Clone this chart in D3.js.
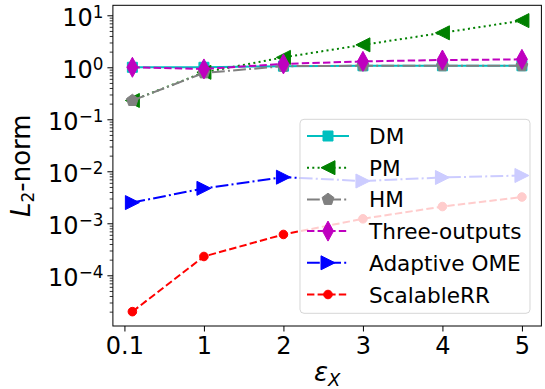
<!DOCTYPE html>
<html>
<head>
<meta charset="utf-8">
<script src="https://cdn.jsdelivr.net/npm/d3@7"></script>
<style>
body { margin: 0; background: #fff; }
text { font-family: "DejaVu Sans", sans-serif; fill: #000; }
</style>
</head>
<body>
<div id="chart"></div>
<script>
// data
const xValues = [0.1, 1, 2, 3, 4, 5];
const xTickPos = [0, 1, 2, 3, 4, 5];
const xTickLabels = ["0.1", "1", "2", "3", "4", "5"];
const yTickExps = [-4, -3, -2, -1, 0, 1];

const seriesNames = ["DM", "PM", "HM", "Three-outputs", "Adaptive OME", "ScalableRR"];
const dmValues = [1.0, 1.0, 1.05, 1.07, 1.07, 1.07];
const pmValues = [0.23, 0.8, 1.55, 2.7, 4.6, 7.9];
const hmValues = [0.23, 0.78, 1.05, 1.07, 1.07, 1.07];
const threeValues = [1.0, 0.93, 1.16, 1.3, 1.38, 1.42];
const omeValues = [0.0025, 0.0047, 0.0077, 0.0065, 0.0076, 0.0083];
const rrValues = [0.00002, 0.00023, 0.00061, 0.00122, 0.0021, 0.0032];

const width = 545;
const height = 389;
const plot = {left: 112.9, right: 541.4, top: 5.3, bottom: 326};

const styles = {
    "DM": {color: "#00bfbf", dash: null, marker: "square"},
    "PM": {color: "#008000", dash: "2,3.3", marker: "triLeft"},
    "HM": {color: "#808080", dash: "12.8,3.2,2,3.2", marker: "pentagon"},
    "Three-outputs": {color: "#bf00bf", dash: "7.4,3.2", marker: "thinDiamond"},
    "Adaptive OME": {color: "#0000ff", dash: "12.8,3.2,2,3.2", marker: "triRight"},
    "ScalableRR": {color: "#ff0000", dash: "7.4,3.2", marker: "circle"}
};

function markerPath(kind){
    if (kind === "square") return "M-5,-5H5V5H-5Z";
    if (kind === "triLeft") return "M-7,0L7,-7L7,7Z";
    if (kind === "triRight") return "M7,0L-7,-7L-7,7Z";
    if (kind === "thinDiamond") return "M0,-10L5.5,0L0,10L-5.5,0Z";
    if (kind === "circle") return "M4.3,0A4.3,4.3 0 1 1 -4.3,0A4.3,4.3 0 1 1 4.3,0Z";
    // pentagon
    let pts = d3.range(5).map((k) => {
        let a = (-90 + k * 72) * Math.PI / 180;
        return [6.2 * Math.cos(a), 6.2 * Math.sin(a)];
    });
    return "M" + pts.map((p) => p.join(",")).join("L") + "Z";
}

const svg = d3.select("#chart").append("svg").attr("width", width).attr("height", height);

const xScale = d3.scaleLinear().domain([-0.145, 5.245]).range([plot.left, plot.right]);
const yScale = d3.scaleLog().domain([Math.pow(10, -4.975), Math.pow(10, 1.192)]).range([plot.bottom, plot.top]);

const allValues = [dmValues, pmValues, hmValues, threeValues, omeValues, rrValues];

// lines + markers
const line = d3.line().x((d) => xScale(d[0])).y((d) => yScale(d[1]));
seriesNames.forEach((name, i) => {
    const st = styles[name];
    const pts = xValues.map((x, j) => [x, allValues[i][j]]);
    svg.append("path")
        .attr("d", line(pts))
        .attr("fill", "none")
        .attr("stroke", st.color)
        .attr("stroke-width", 2)
        .attr("stroke-dasharray", st.dash);
    svg.append("g").selectAll("path")
        .data(pts)
        .join("path")
        .attr("transform", (d) => `translate(${xScale(d[0])},${yScale(d[1])})`)
        .attr("d", markerPath(st.marker))
        .attr("fill", st.color)
        .attr("stroke", st.color)
        .attr("stroke-width", 1);
});

// axes
const xAxis = d3.axisBottom(xScale)
    .tickValues(xTickPos)
    .tickFormat((d, i) => xTickLabels[i])
    .tickSize(5.5)
    .tickPadding(5.8);
const gx = svg.append("g")
    .attr("transform", `translate(0,${plot.bottom})`)
    .call(xAxis);
gx.select(".domain").remove();
gx.selectAll("text").attr("font-size", 24).attr("font-family", "DejaVu Sans");
gx.selectAll("line").attr("stroke-width", 1);

const minorTicks = [];
for (let e = -5; e <= 1; e++) {
    for (let m = 2; m <= 9; m++) {
        let v = m * Math.pow(10, e);
        if (v >= yScale.domain()[0] && v <= yScale.domain()[1]) minorTicks.push(v);
    }
}
const gyMinor = svg.append("g")
    .attr("transform", `translate(${plot.left},0)`)
    .call(d3.axisLeft(yScale).tickValues(minorTicks).tickFormat("").tickSize(3.2));
gyMinor.select(".domain").remove();
gyMinor.selectAll("line").attr("stroke-width", 0.8);

const gy = svg.append("g")
    .attr("transform", `translate(${plot.left},0)`)
    .call(d3.axisLeft(yScale).tickValues(yTickExps.map((e) => Math.pow(10, e))).tickFormat("").tickSize(5.5));
gy.select(".domain").remove();
gy.selectAll("line").attr("stroke-width", 1);
gy.selectAll(".tick text").each(function(d, i){
    const t = d3.select(this)
        .attr("x", -9.5)
        .attr("dy", null)
        .attr("y", 10.6)
        .attr("font-size", 24)
        .attr("font-family", "DejaVu Sans")
        .attr("text-anchor", "end");
    const e = yTickExps[i];
    t.append("tspan").text("10");
    t.append("tspan")
        .attr("dy", -8.3)
        .attr("font-size", 16.8)
        .text(e < 0 ? "\u2212" + (-e) : String(e));
});

// frame
svg.append("rect")
    .attr("x", plot.left).attr("y", plot.top)
    .attr("width", plot.right - plot.left).attr("height", plot.bottom - plot.top)
    .attr("fill", "none").attr("stroke", "#000").attr("stroke-width", 1);

// axis labels
const ylab = svg.append("text")
    .attr("transform", `translate(30,${(plot.top + plot.bottom) / 2}) rotate(-90)`)
    .attr("text-anchor", "middle")
    .attr("font-size", 26);
ylab.append("tspan").attr("font-style", "italic").text("L");
ylab.append("tspan").attr("font-size", 17).attr("dy", 4).text("2");
ylab.append("tspan").attr("dy", -4).text("-norm");

const xlab = svg.append("text")
    .attr("x", (plot.left + plot.right) / 2)
    .attr("y", 381)
    .attr("text-anchor", "middle")
    .attr("font-size", 26)
    .attr("font-style", "italic");
xlab.append("tspan").text("\u03b5");
xlab.append("tspan").attr("font-size", 18).attr("dy", 5).text("X");

// legend
const legend = svg.append("g");
legend.append("rect")
    .attr("x", 300).attr("y", 119.3)
    .attr("width", 230).attr("height", 194)
    .attr("rx", 4).attr("ry", 4)
    .attr("fill", "#fff").attr("fill-opacity", 0.8)
    .attr("stroke", "#ccc").attr("stroke-opacity", 0.8).attr("stroke-width", 1);
seriesNames.forEach((name, i) => {
    const st = styles[name];
    const yRow = 136 + i * 31.7;
    legend.append("line")
        .attr("x1", 307).attr("x2", 349)
        .attr("y1", yRow).attr("y2", yRow)
        .attr("stroke", st.color).attr("stroke-width", 2)
        .attr("stroke-dasharray", st.dash);
    legend.append("path")
        .attr("transform", `translate(328,${yRow})`)
        .attr("d", markerPath(st.marker))
        .attr("fill", st.color).attr("stroke", st.color).attr("stroke-width", 1);
    legend.append("text")
        .attr("x", 369).attr("y", yRow + 8)
        .attr("font-size", 21.6)
        .text(name);
});
</script>
</body>
</html>
